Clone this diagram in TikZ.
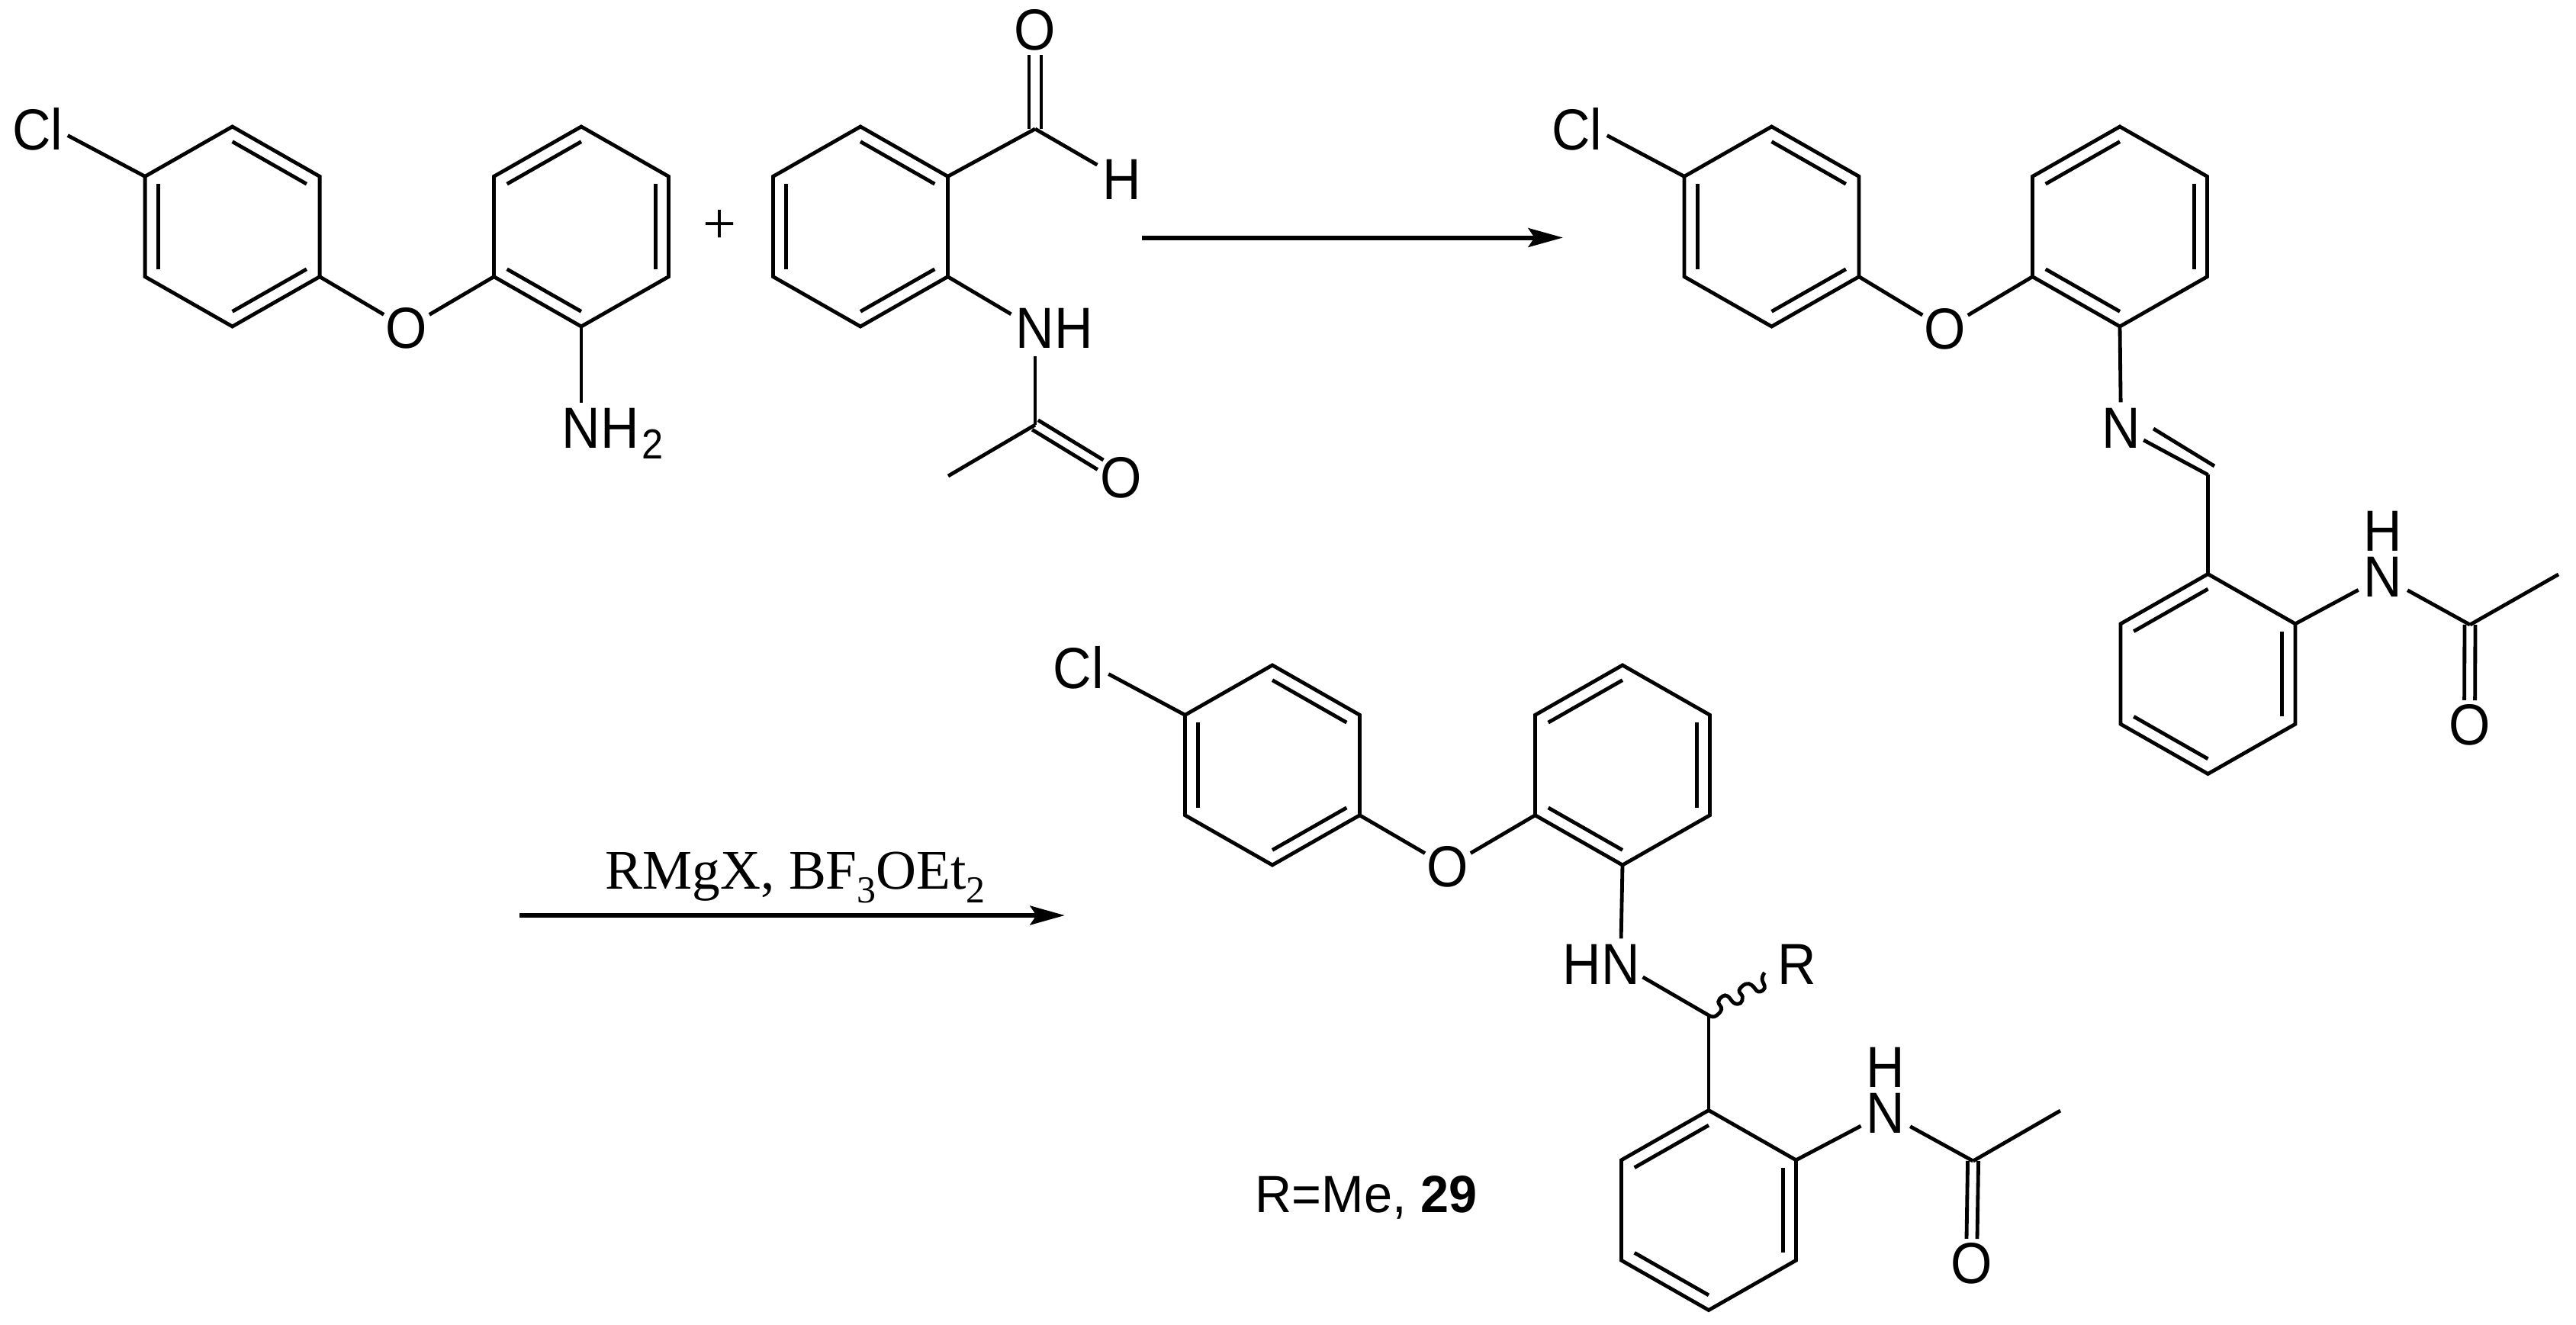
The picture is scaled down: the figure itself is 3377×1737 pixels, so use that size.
\documentclass[tikz,border=0pt]{standalone}
\usepackage{fontspec}
\setmainfont[FakeStretch=0.92]{Liberation Sans}
\newfontfamily\capsfam[FakeStretch=0.97]{Liberation Sans}
\newfontfamily\tms{Liberation Serif}
\usetikzlibrary{calc,arrows.meta}
\newcommand\chemfont{\fontsize{22.8}{27}\selectfont}
\newcommand\lbl[1]{\makebox[0pt]{\raisebox{-7.8pt}[0pt][0pt]{#1}}}
\newcommand\hexring[4]{%
  \coordinate (#1c) at (#2,#3);
  \coordinate (#11) at (#2,#3-131);
  \coordinate (#12) at (#2+114.5,#3-65.7);
  \coordinate (#13) at (#2+114.5,#3+65.7);
  \coordinate (#14) at (#2,#3+131);
  \coordinate (#15) at (#2-114.5,#3+65.7);
  \coordinate (#16) at (#2-114.5,#3-65.7);
  \draw[bond] (#11)--(#12)--(#13)--(#14)--(#15)--(#16)--cycle;
  \foreach \p/\q in {#4} {\draw[bond] ($(#1\p)!.15!(#1c)$) -- ($(#1\q)!.15!(#1c)$);}
}
% symmetric double bond from atom #1 to labelled atom #2
\newcommand\dbond[3]{%
  \draw[bond,shorten >=9.6pt] ($(#1)!#3!90:(#2)$) -- ($(#2)!#3!-90:(#1)$);
  \draw[bond,shorten >=9.6pt] ($(#1)!#3!-90:(#2)$) -- ($(#2)!#3!90:(#1)$);
}
\tikzset{
  bond/.style={line width=1.45pt,line join=miter,line cap=butt},
  atom/.style={circle,inner sep=0pt,minimum size={2*#1*0.3pt},font=\chemfont},
  plain/.style={inner sep=0pt,font=\chemfont},
  rxn/.style={-{Stealth[length=13.6pt,width=7.4pt,inset=2.4pt]}},
}
\begin{document}
\begin{tikzpicture}[x=0.3pt,y=-0.3pt]
\useasboundingbox (0,0) rectangle (3377,1737);
\fill[white] (0,0) rectangle (3377,1737);

% ---------- starting amine
\hexring{A}{304.6}{297}{1/2,3/4,5/6}
\hexring{D}{762}{297}{6/1,2/3,4/5}
\node[atom=15.5] (clA) at (74.5,170) {\lbl{\llap{C}l}};
\node[atom=34] (oA) at (533,430) {\lbl{O}};
\node[atom=33] (nA) at (762,561.5) {\lbl{N\rlap{H\kern1.2pt\raisebox{-4.2pt}{\fontsize{16.5}{18}\selectfont 2}}}};
\draw[bond] (A6) -- (clA);
\draw[bond] (A3) -- (oA);
\draw[bond] (D5) -- (oA);
\draw[bond] (D4) -- (nA);

% ---------- plus
\node[plain,font=\tms\fontsize{23.4}{28}\selectfont] (plus) at (943.5,300) {\makebox[0pt]{\raisebox{-0.25em}[0pt][0pt]{+}}};

% ---------- aldehyde
\hexring{E}{1128}{297}{1/2,3/4,5/6}
\coordinate (cho) at (1357,169);
\coordinate (coE) at (1357,557);
\coordinate (meE) at (1243,624);
\node[atom=34] (oE1) at (1357,39.5) {\lbl{O}};
\node[atom=37] (hE) at (1471,235) {\lbl{H}};
\node[atom=36] (nE) at (1357,430.5) {\lbl{N\rlap{H}}};
\node[atom=32] (oE2) at (1470,626) {\lbl{O}};
\dbond{cho}{oE1}{2.4pt}
\draw[bond] (E2) -- (cho);
\draw[bond] (cho) -- (hE);
\draw[bond] (E3) -- (nE);
\draw[bond] (nE) -- (coE);
\draw[bond] (coE) -- (meE);
\dbond{coE}{oE2}{2.2pt}

% ---------- arrow 1
\coordinate (a1s) at (1497,311.5);
\coordinate (a1e) at (2049,311.5);
\draw[line width=1.8pt,rxn] (a1s) -- (a1e);

% ---------- imine
\hexring{F}{2322.5}{297}{1/2,3/4,5/6}
\hexring{G}{2779}{297}{6/1,2/3,4/5}
\hexring{I}{2894.5}{883.5}{6/1,2/3,4/5}
\node[atom=15.5] (clF) at (2092.5,170) {\lbl{\llap{C}l}};
\node[atom=34] (oF) at (2550,431) {\lbl{O}};
\node[atom=33] (nG) at (2780.5,561) {\lbl{N}};
\coordinate (chI) at (2894.5,622.4);
\coordinate (dbA) at (2823,562);
\coordinate (dbB) at (2903,611);
\node[atom=36] (nI) at (3124,756) {\lbl{N}};
\node[plain] (hI) at (3124,696.5) {\lbl{H}};
\coordinate (coI) at (3238,819);
\coordinate (meI) at (3354,753);
\node[atom=32] (oI) at (3237.5,950) {\lbl{O}};
\draw[bond] (F6) -- (clF);
\draw[bond] (F3) -- (oF);
\draw[bond] (G5) -- (oF);
\draw[bond] (G4) -- (nG);
\draw[bond] (nG) -- (chI);
\draw[bond] (dbA) -- (dbB);
\draw[bond] (chI) -- (I1);
\draw[bond] (I2) -- (nI);
\draw[bond] (nI) -- (coI);
\draw[bond] (coI) -- (meI);
\dbond{coI}{oI}{2.1pt}

% ---------- arrow 2 and reagents
\coordinate (a2s) at (681,1200);
\coordinate (a2e) at (1396,1200);
\draw[line width=2pt,rxn] (a2s) -- (a2e);
\node[plain,anchor=base west,font=\tms\fontsize{22}{26}\selectfont] (reag) at (793,1165)
  {RMgX, BF\raisebox{-5.4pt}{\fontsize{15}{18}\selectfont 3}OEt\raisebox{-5.4pt}{\fontsize{15}{18}\selectfont 2}};

% ---------- product
\hexring{J}{1668}{1003}{1/2,3/4,5/6}
\hexring{K}{2127}{1003}{6/1,2/3,4/5}
\hexring{L}{2240}{1586.5}{6/1,2/3,4/5}
\node[atom=15.5] (clJ) at (1439,876) {\lbl{\llap{C}l}};
\node[atom=34] (oJ) at (1898,1136) {\lbl{O}};
\node[atom=33] (nK) at (2124.5,1264) {\lbl{\llap{H}N}};
\coordinate (chL) at (2240,1331);
\coordinate (wv) at (2313.3,1275);
\node[plain] (rL) at (2356,1264.5) {\lbl{R}};
\node[atom=36] (nL) at (2472,1459) {\lbl{N}};
\node[plain] (hL) at (2472,1399) {\lbl{H}};
\coordinate (coL) at (2586.6,1522);
\coordinate (meL) at (2701,1456);
\node[atom=32] (oL) at (2584.5,1656) {\lbl{O}};
\draw[bond] (J6) -- (clJ);
\draw[bond] (J3) -- (oJ);
\draw[bond] (K5) -- (oJ);
\draw[bond] (K4) -- (nK);
\draw[bond] (nK) -- (chL);
\draw[bond] (chL) -- (L1);
\draw[bond,smooth,tension=0.7] plot coordinates {(chL) (2248,1332.5) (2256.7,1323.3) (2252.7,1313.3) (2258.3,1306) (2265,1306) (2273.3,1315) (2281.7,1315) (2284.3,1306.7) (2280,1298.3) (2288.3,1290) (2296.7,1291.7) (2305,1300) (2313.3,1295) (2310,1283.3) (wv)};
\draw[bond] (L2) -- (nL);
\draw[bond] (nL) -- (coL);
\draw[bond] (coL) -- (meL);
\dbond{coL}{oL}{2.1pt}
\node[plain,anchor=base west,font=\capsfam\fontsize{20.6}{24}\selectfont] (rme) at (1645,1589) {R=Me, \textbf{29}};
\end{tikzpicture}
\end{document}
